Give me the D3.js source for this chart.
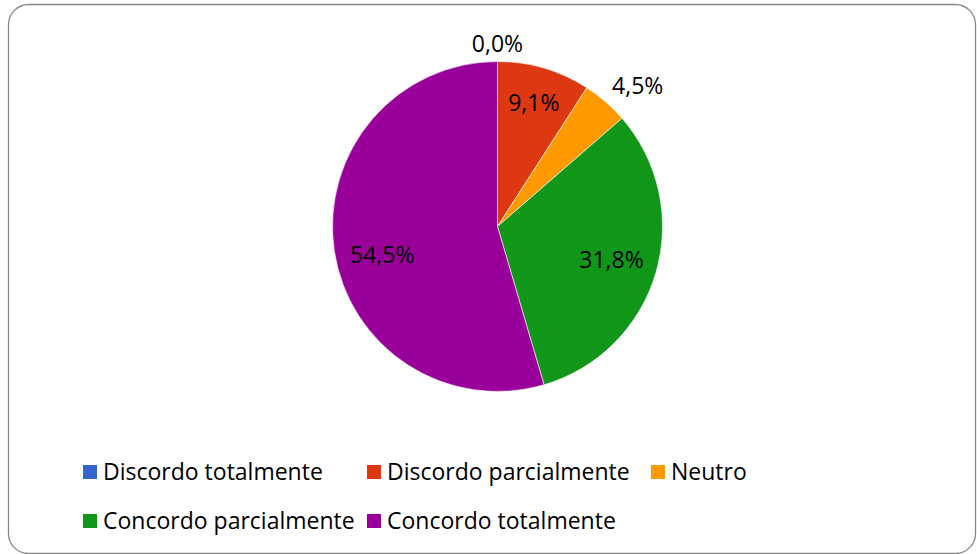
<!DOCTYPE html>
<html>
<head>
<meta charset="utf-8">
<script src="https://cdn.jsdelivr.net/npm/d3@7"></script>
<style>
  body { margin: 0; background: #fff; }
  svg { display: block; }
  text { font-family: "Open Sans", "Noto Sans", sans-serif; fill: #000; }
</style>
</head>
<body>
<div id="chart"></div>
<script>
// categories, values (percent) and colours
const categories = ['Discordo totalmente', 'Discordo parcialmente', 'Neutro', 'Concordo parcialmente', 'Concordo totalmente'];
const values = [0.0, 9.1, 4.5, 31.8, 54.5];
const colors = ['#3366CC', '#DC3912', '#FF9900', '#109618', '#990099'];

const W = 977, H = 554;
const cx = 497.5, cy = 226.5, R = 165;
const fontSize = '23px';

const svg = d3.select('#chart').append('svg')
  .attr('width', W)
  .attr('height', H);

// chart area border
svg.append('rect')
  .attr('x', 8.5).attr('y', 4.5)
  .attr('width', 967).attr('height', 549)
  .attr('rx', 20).attr('ry', 20)
  .style('fill', '#fff')
  .style('stroke', '#868686')
  .style('stroke-width', 1.3);

const data = categories.map((c, i) => ({ cat: c, value: values[i], color: colors[i] }));

const pie = d3.pie()
  .value(d => d.value)
  .sort(null);

const arcs = pie(data);

const arc = d3.arc().innerRadius(0).outerRadius(R);

const g = svg.append('g')
  .attr('transform', `translate(${cx},${cy})`);

g.selectAll('path.slice')
  .data(arcs)
  .enter().append('path')
  .attr('class', 'slice')
  .attr('d', arc)
  .style('fill', d => d.data.color)
  .style('stroke', '#fff')
  .style('stroke-width', 0.6);

const fmt = v => d3.format('.1f')(v).replace('.', ',') + '%';

// labels: small slices go outside, others inside (best fit)
arcs.forEach(d => {
  const mid = (d.startAngle + d.endAngle) / 2;
  const share = d.data.value / d3.sum(values);
  if (share < 0.06) {
    const r = R + 10;
    const x = Math.sin(mid) * r, y = -Math.cos(mid) * r;
    const anchor = Math.abs(Math.sin(mid)) < 0.1 ? 'middle' : (Math.sin(mid) > 0 ? 'start' : 'end');
    g.append('text')
      .attr('x', x).attr('y', y)
      .attr('text-anchor', anchor)
      .style('font-size', fontSize)
      .text(fmt(d.data.value));
  } else {
    const r = share < 0.1 ? R * 0.78 : R * 0.72;
    let x = Math.sin(mid) * r, y = -Math.cos(mid) * r;
    // the biggest slice's label sits a bit lower, as in the original
    if (share > 0.5) { const a = mid - 0.1; x = Math.sin(a) * r; y = -Math.cos(a) * r; }
    g.append('text')
      .attr('x', x).attr('y', y)
      .attr('dy', '0.35em')
      .attr('text-anchor', 'middle')
      .style('font-size', fontSize)
      .text(fmt(d.data.value));
  }
});

// legend, flowing in two rows
const rows = [[0, 1, 2], [3, 4]];
const rowY = [472, 521];
const sw = 14, minCol = 284;
const legend = svg.append('g').attr('class', 'legend');

rows.forEach((row, ri) => {
  let x = 83;
  row.forEach(i => {
    const item = legend.append('g')
      .attr('transform', `translate(${x},${rowY[ri]})`);
    item.append('rect')
      .attr('x', 0).attr('y', -sw / 2)
      .attr('width', sw).attr('height', sw)
      .style('fill', colors[i]);
    const t = item.append('text')
      .attr('x', 20).attr('y', 0)
      .attr('dy', '0.35em')
      .style('font-size', fontSize)
      .text(categories[i]);
    const tw = t.node().getComputedTextLength();
    x += Math.max(minCol, 20 + tw + 6);
  });
});
</script>
</body>
</html>
